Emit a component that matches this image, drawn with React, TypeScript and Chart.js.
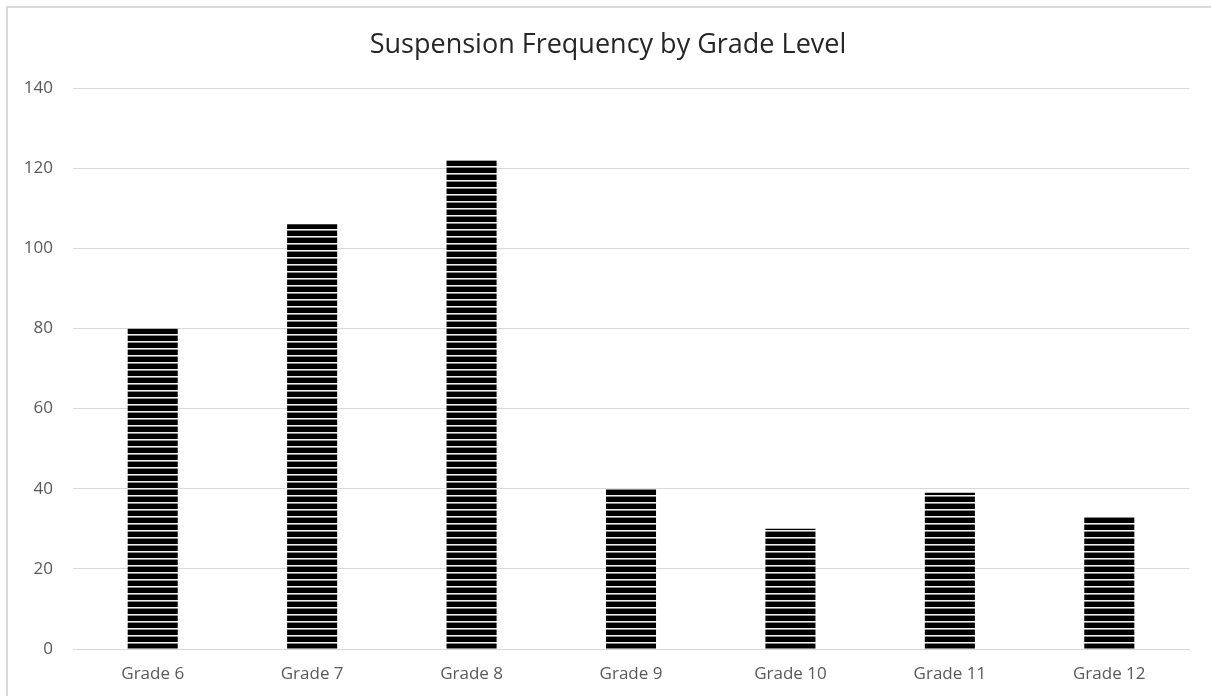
import React, { useEffect, useRef } from "react";
import { Chart, registerables } from "chart.js";

Chart.register(...registerables);

const categories = ["Grade 6", "Grade 7", "Grade 8", "Grade 9", "Grade 10", "Grade 11", "Grade 12"];
const suspensions = [80, 106, 122, 40, 30, 39, 33];
const yTicks = [0, 20, 40, 60, 80, 100, 120, 140];
const titleText = "Suspension Frequency by Grade Level";

function makePattern(ctx: CanvasRenderingContext2D) {
  const c = document.createElement("canvas");
  c.width = 8;
  c.height = 7;
  const p = c.getContext("2d")!;
  p.fillStyle = "#000000";
  p.fillRect(0, 0, 8, 7);
  p.fillStyle = "#f0f0f0";
  p.fillRect(0, 5, 8, 1);
  p.fillStyle = "#8a8a8a";
  p.fillRect(0, 6, 8, 1);
  return ctx.createPattern(c, "repeat")!;
}

export default function App() {
  const ref = useRef<HTMLCanvasElement>(null);
  useEffect(() => {
    const canvas = ref.current!;
    const ctx = canvas.getContext("2d")!;
    const pattern = makePattern(ctx);
    const titlePlugin = {
      id: "customTitle",
      afterDraw(chart: any) {
        const c = chart.ctx;
        c.save();
        c.fillStyle = "#262626";
        c.font = "27px 'Open Sans'";
        c.textAlign = "center";
        c.textBaseline = "alphabetic";
        c.fillText(titleText, 608, 53);
        c.restore();
      },
    };
    const chart = new Chart(canvas, {
      type: "bar",
      data: {
        labels: categories,
        datasets: [
          {
            label: "Suspensions",
            data: suspensions,
            backgroundColor: pattern as any,
            borderWidth: 0,
            barPercentage: 0.314,
            categoryPercentage: 1,
          },
        ],
      },
      options: {
        animation: false,
        responsive: false,
        maintainAspectRatio: false,
        layout: { padding: { top: 88, right: 22, left: 0, bottom: 0 } },
        plugins: { legend: { display: false }, title: { display: false }, tooltip: { enabled: false } },
        scales: {
          x: {
            grid: { display: false, drawTicks: false },
            border: { display: true, color: "#d9d9d9" },
            ticks: { color: "#595959", font: { family: "Open Sans", size: 17 }, padding: 15 },
            afterFit: (s: any) => {
              s.height = 47;
            },
          },
          y: {
            min: 0,
            max: 140,
            afterBuildTicks: (s: any) => {
              s.ticks = yTicks.map((v) => ({ value: v }));
            },
            grid: { color: "#d9d9d9", drawTicks: false },
            border: { display: false },
            ticks: { color: "#595959", font: { family: "Open Sans", size: 17 }, padding: 20 },
            afterFit: (s: any) => {
              s.width = 73;
            },
          },
        },
      },
      plugins: [titlePlugin],
    });
    return () => chart.destroy();
  }, []);
  return (
    <div style={{ position: "absolute", left: 0, top: 0, width: 1211, height: 696, background: "#fff", overflow: "hidden" }}>
      <canvas ref={ref} width={1211} height={696} style={{ position: "absolute", left: 0, top: 0 }} />
      <div style={{ position: "absolute", left: 6, top: 6, width: 1300, height: 800, border: "2px solid #d9d9d9", pointerEvents: "none" }} />
    </div>
  );
}
